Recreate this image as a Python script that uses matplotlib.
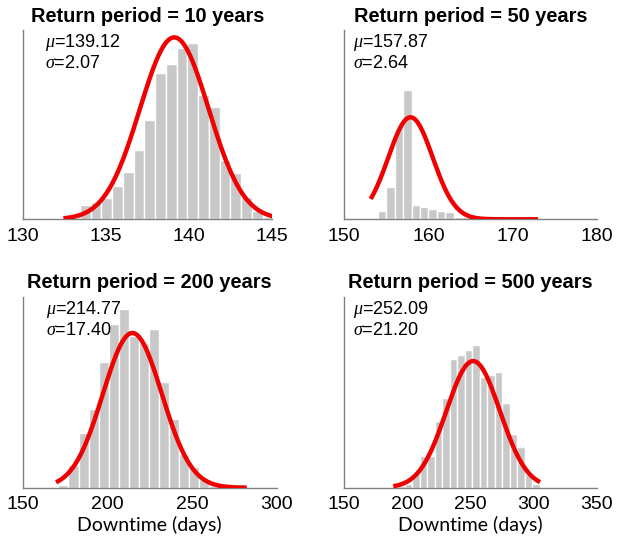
import matplotlib
matplotlib.use("Agg")
import matplotlib.pyplot as plt
import numpy as np

plt.rcParams["font.family"] = ["Liberation Sans", "DejaVu Sans"]
plt.rcParams["mathtext.fontset"] = "custom"
plt.rcParams["mathtext.it"] = "Liberation Serif:italic"

# --- data (bar heights as a fraction of the axes height) ---
periods = [10, 50, 200, 500]
mus = [139.12, 157.87, 214.77, 252.09]
sigmas = [2.07, 2.64, 17.40, 21.20]

xlims = [(130, 145), (150, 180), (150, 300), (150, 350)]
xticks = [[130, 135, 140, 145], [150, 160, 170, 180], [150, 200, 250, 300], [150, 200, 250, 300, 350]]

# first / last bin edge of each histogram
bin_ranges = [(132.15, 145.09), (153.0, 166.0), (165.2, 265.9), (185.9, 304.7)]

h10 = [2, 3, 43, 53, 65, 101, 143, 208, 298, 440, 466, 515, 528, 373, 336, 178, 138, 68, 26, 6]
h50 = [2, 26, 98, 273, 388, 43, 36, 30, 26, 22, 8, 6, 3]
h200 = [2, 8, 68, 163, 236, 378, 490, 536, 455, 433, 475, 318, 205, 100, 63, 25, 6]
h500 = [2, 5, 10, 42, 94, 96, 200, 270, 384, 397, 412, 427, 332, 339, 347, 254, 160, 122, 42, 12]
heights = [np.array(h10) / 568, np.array(h50) / 568, np.array(h200) / 573, np.array(h500) / 572]

# fitted normal curve: peak height (fraction of axes) and drawn x-range
curve_peaks = [0.961, 0.539, 0.81, 0.663]
curve_ranges = [(132.45, 145.1), (153.13, 173.03), (169.7, 282.3), (188.8, 305.1)]

# axes rectangles in figure pixels: left, right, bottom(y from top), top(y from top)
W, H = 617, 541
boxes = [(22.7, 272.0, 219.3, 30.0), (344.3, 596.7, 219.3, 30.0),
         (22.7, 276.7, 487.7, 296.7), (344.3, 596.7, 487.7, 296.7)]

fig = plt.figure(figsize=(W / 100, H / 100), dpi=100)

for i in range(4):
    l, r, b, t = boxes[i]
    ax = fig.add_axes([l / W, (H - b) / H, (r - l) / W, (b - t) / H])

    hts = heights[i]
    edges = np.linspace(bin_ranges[i][0], bin_ranges[i][1], len(hts) + 1)
    ax.bar(edges[:-1], hts, width=np.diff(edges), align="edge",
           color="#c8c8c8", edgecolor="white", linewidth=1.0, zorder=1)

    x = np.linspace(curve_ranges[i][0], curve_ranges[i][1], 400)
    y = curve_peaks[i] * np.exp(-0.5 * ((x - mus[i]) / sigmas[i]) ** 2)
    ax.plot(x, y, color="#f00000", linewidth=3.2, solid_capstyle="butt", zorder=3)

    ax.set_xlim(*xlims[i])
    ax.set_ylim(0, 1)
    ax.set_xticks(xticks[i])
    ax.set_yticks([])
    ax.tick_params(axis="x", length=0, pad=6, labelsize=14)
    for s in ["top", "right"]:
        ax.spines[s].set_visible(False)
    for s in ["left", "bottom"]:
        ax.spines[s].set_color("#808080")
        ax.spines[s].set_linewidth(1.0)

    ax.set_title(f"Return period = {periods[i]} years", fontsize=14.4,
                 fontweight="bold", pad=6)
    tx = 0.09 if i in (0, 2) else 0.035
    ax.text(tx, 0.99, rf"$\mu$={mus[i]:.2f}", transform=ax.transAxes,
            fontsize=13, va="top", ha="left")
    ax.text(tx, 0.87, rf"$\sigma$={sigmas[i]:.2f}", transform=ax.transAxes,
            fontsize=13, va="top", ha="left")

    if i >= 2:
        ax.set_xlabel("Downtime (days)", fontsize=14, family=["Lato", "DejaVu Sans"],
                      labelpad=2)

fig.savefig("out.png", dpi=100)
